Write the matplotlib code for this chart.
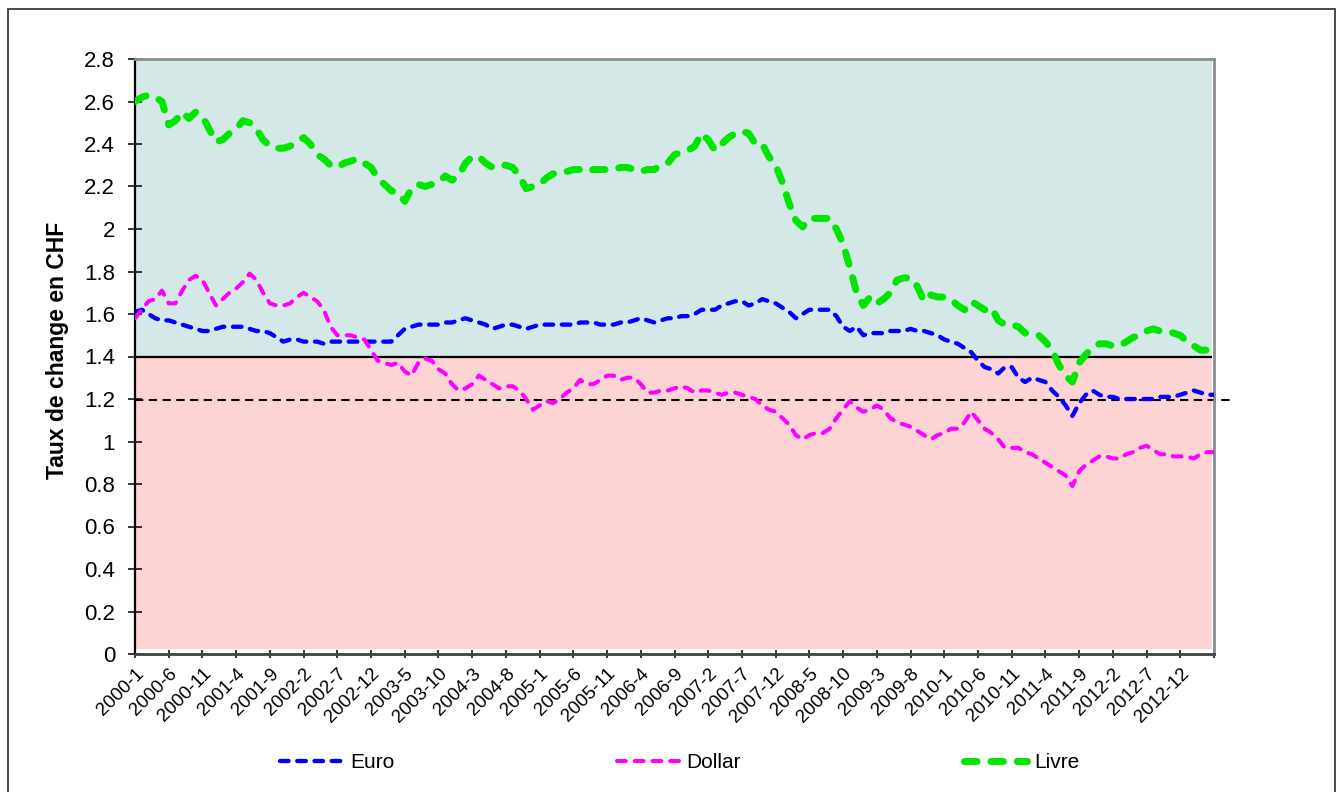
import matplotlib
matplotlib.use("Agg")
import matplotlib.pyplot as plt
from matplotlib.patches import Rectangle

plt.rcParams['font.family'] = ['Liberation Sans', 'DejaVu Sans']

# ---------------- data ----------------
months = [f"{y}-{m}" for y in range(2000, 2014) for m in range(1, 13)][:161]  # 2000-1 .. 2013-5

euro = [1.61, 1.62, 1.60, 1.58, 1.57, 1.57, 1.56, 1.55, 1.54, 1.53,
        1.52, 1.52, 1.53, 1.54, 1.54, 1.54, 1.54, 1.53, 1.52, 1.52,
        1.51, 1.49, 1.47, 1.48, 1.48, 1.47, 1.47, 1.47, 1.46, 1.47,
        1.47, 1.47, 1.47, 1.47, 1.47, 1.47, 1.47, 1.47, 1.47, 1.50,
        1.53, 1.54, 1.55, 1.55, 1.55, 1.55, 1.56, 1.56, 1.57, 1.58,
        1.57, 1.56, 1.55, 1.53, 1.54, 1.55, 1.55, 1.54, 1.53, 1.54,
        1.55, 1.55, 1.55, 1.55, 1.55, 1.55, 1.56, 1.56, 1.56, 1.55,
        1.55, 1.55, 1.56, 1.56, 1.57, 1.58, 1.57, 1.56, 1.57, 1.58,
        1.58, 1.59, 1.59, 1.60, 1.62, 1.62, 1.62, 1.64, 1.65, 1.66,
        1.66, 1.64, 1.65, 1.67, 1.66, 1.65, 1.63, 1.61, 1.58, 1.60,
        1.62, 1.62, 1.62, 1.62, 1.59, 1.54, 1.52, 1.54, 1.50, 1.51,
        1.51, 1.51, 1.52, 1.52, 1.52, 1.53, 1.52, 1.52, 1.51, 1.50,
        1.48, 1.47, 1.46, 1.44, 1.42, 1.38, 1.35, 1.34, 1.32, 1.35,
        1.35, 1.30, 1.28, 1.30, 1.29, 1.28, 1.24, 1.21, 1.17, 1.12,
        1.18, 1.22, 1.24, 1.22, 1.21, 1.21, 1.20, 1.20, 1.20, 1.20,
        1.20, 1.20, 1.21, 1.21, 1.21, 1.22, 1.23, 1.24, 1.23, 1.22,
        1.22]

dollar = [1.58, 1.62, 1.66, 1.67, 1.71, 1.65, 1.65, 1.71, 1.76, 1.78,
          1.76, 1.70, 1.64, 1.67, 1.70, 1.72, 1.75, 1.79, 1.76, 1.70,
          1.65, 1.64, 1.64, 1.65, 1.68, 1.70, 1.68, 1.66, 1.62, 1.54,
          1.50, 1.50, 1.50, 1.49, 1.48, 1.43, 1.38, 1.37, 1.36, 1.37,
          1.33, 1.31, 1.37, 1.39, 1.38, 1.34, 1.32, 1.27, 1.24, 1.25,
          1.27, 1.31, 1.29, 1.27, 1.25, 1.26, 1.26, 1.24, 1.20, 1.15,
          1.17, 1.19, 1.18, 1.20, 1.23, 1.25, 1.29, 1.27, 1.27, 1.29,
          1.31, 1.31, 1.29, 1.30, 1.30, 1.27, 1.23, 1.23, 1.24, 1.24,
          1.25, 1.26, 1.25, 1.23, 1.24, 1.24, 1.23, 1.22, 1.23, 1.23,
          1.22, 1.21, 1.20, 1.17, 1.15, 1.14, 1.11, 1.08, 1.03, 1.01,
          1.03, 1.04, 1.04, 1.06, 1.11, 1.15, 1.19, 1.16, 1.14, 1.15,
          1.17, 1.15, 1.11, 1.09, 1.08, 1.07, 1.05, 1.03, 1.01, 1.03,
          1.04, 1.06, 1.06, 1.09, 1.14, 1.10, 1.06, 1.04, 1.01, 0.97,
          0.97, 0.97, 0.95, 0.94, 0.92, 0.90, 0.88, 0.86, 0.84, 0.79,
          0.86, 0.89, 0.91, 0.93, 0.93, 0.92, 0.92, 0.94, 0.95, 0.97,
          0.98, 0.96, 0.94, 0.94, 0.93, 0.93, 0.93, 0.92, 0.94, 0.95,
          0.95]

livre = [2.60, 2.62, 2.63, 2.62, 2.60, 2.49, 2.51, 2.55, 2.52, 2.55,
         2.53, 2.47, 2.41, 2.42, 2.45, 2.47, 2.51, 2.50, 2.47, 2.42,
         2.39, 2.38, 2.38, 2.39, 2.41, 2.43, 2.40, 2.35, 2.33, 2.30,
         2.29, 2.31, 2.32, 2.33, 2.31, 2.29, 2.24, 2.21, 2.18, 2.17,
         2.13, 2.19, 2.21, 2.20, 2.21, 2.22, 2.25, 2.23, 2.25, 2.31,
         2.34, 2.34, 2.31, 2.29, 2.30, 2.30, 2.29, 2.25, 2.19, 2.20,
         2.21, 2.24, 2.26, 2.26, 2.27, 2.28, 2.28, 2.27, 2.28, 2.28,
         2.28, 2.28, 2.29, 2.29, 2.28, 2.27, 2.28, 2.28, 2.30, 2.31,
         2.35, 2.36, 2.37, 2.39, 2.45, 2.42, 2.37, 2.40, 2.43, 2.45,
         2.46, 2.45, 2.40, 2.40, 2.34, 2.30, 2.22, 2.12, 2.04, 2.01,
         2.05, 2.05, 2.05, 2.05, 2.00, 1.93, 1.82, 1.70, 1.64, 1.68,
         1.65, 1.67, 1.70, 1.76, 1.77, 1.77, 1.73, 1.66, 1.69, 1.68,
         1.68, 1.67, 1.64, 1.62, 1.66, 1.64, 1.62, 1.63, 1.57, 1.55,
         1.55, 1.54, 1.51, 1.51, 1.50, 1.47, 1.43, 1.36, 1.31, 1.28,
         1.37, 1.41, 1.44, 1.46, 1.46, 1.45, 1.45, 1.47, 1.49, 1.50,
         1.52, 1.53, 1.52, 1.52, 1.51, 1.50, 1.47, 1.45, 1.43, 1.43,
         1.44]

x_tick_labels = ["2000-1", "2000-6", "2000-11", "2001-4", "2001-9", "2002-2",
                 "2002-7", "2002-12", "2003-5", "2003-10", "2004-3", "2004-8",
                 "2005-1", "2005-6", "2005-11", "2006-4", "2006-9", "2007-2",
                 "2007-7", "2007-12", "2008-5", "2008-10", "2009-3", "2009-8",
                 "2010-1", "2010-6", "2010-11", "2011-4", "2011-9", "2012-2",
                 "2012-7", "2012-12"]
y_tick_values = [0, 0.2, 0.4, 0.6, 0.8, 1, 1.2, 1.4, 1.6, 1.8, 2, 2.2, 2.4, 2.6, 2.8]
y_tick_labels = ["0", "0.2", "0.4", "0.6", "0.8", "1", "1.2", "1.4", "1.6",
                 "1.8", "2", "2.2", "2.4", "2.6", "2.8"]
threshold_solid = 1.4
threshold_dashed = 1.195
series_names = ["Euro", "Dollar", "Livre"]

# ---------------- figure ----------------
W, H = 1344, 792
fig = plt.figure(figsize=(W / 100, H / 100), dpi=100)
fig.patch.set_facecolor('white')

# outer frame
fig.add_artist(Rectangle((8 / W, -0.01), (1335 - 8) / W, 1 - 9 / H + 0.01,
                         transform=fig.transFigure, fill=False,
                         edgecolor='#3a3a3a', linewidth=1.3))

ax = fig.add_axes([135 / W, 1 - 654 / H, (1214 - 135) / W, (654 - 59) / H])

idx = list(range(len(months)))
ax.set_xlim(0, len(months) - 1)
ax.set_ylim(0, 2.8)

# background bands
ax.axhspan(0.022, threshold_solid, xmin=0, xmax=0.998, facecolor='#FDD3D4',
           edgecolor='none', zorder=0)
ax.axhspan(threshold_solid, 2.8, xmin=0, xmax=0.998, facecolor='#D4E8E8',
           edgecolor='none', zorder=0)

# reference lines
ax.plot([0, len(months) - 1.3], [threshold_solid, threshold_solid],
        color='black', lw=1.6, zorder=2, solid_capstyle='butt')
ax.plot([0, len(months) + 1.6], [threshold_dashed, threshold_dashed],
        color='black', lw=1.5, linestyle=(0, (4, 2.6)), zorder=2,
        clip_on=False, dash_capstyle='butt')

# series
l1, = ax.plot(idx, euro, color='#0000FF', lw=3.1, linestyle=(0, (2.0, 2.0)),
              dash_capstyle='round', zorder=3, label=series_names[0])
l2, = ax.plot(idx, dollar, color='#FF00FF', lw=2.9, linestyle=(0, (2.2, 2.2)),
              dash_capstyle='round', zorder=3, label=series_names[1])
l3, = ax.plot(idx, livre, color='#00E600', lw=5.0, linestyle=(0, (1.8, 2.0)),
              dash_capstyle='round', zorder=4, label=series_names[2])

# axes styling
for side in ['top', 'right']:
    ax.spines[side].set_color('#8c8c8c')
    ax.spines[side].set_linewidth(2.0)
ax.spines['left'].set_color('black')
ax.spines['left'].set_linewidth(1.6)
ax.spines['bottom'].set_color('#404040')
ax.spines['bottom'].set_linewidth(2.0)

ax.set_yticks(y_tick_values)
ax.set_yticklabels(y_tick_labels)
ax.tick_params(axis='y', direction='inout', length=10.5, width=1.1,
               labelsize=16, pad=9, colors='black')

ax.set_xticks(list(range(0, 160, 5)))
ax.set_xticklabels(x_tick_labels, rotation=45, ha='right', va='top',
                   rotation_mode='anchor')
ax.set_xticks([len(months) - 1], minor=True)
ax.tick_params(axis='x', which='both', direction='inout', length=6, width=1.1,
               labelsize=13.5, pad=5, colors='black')
ax.tick_params(axis='x', which='minor', length=6)

ax.set_ylabel("Taux de change en CHF", fontsize=16.5, fontweight='bold')
ax.yaxis.set_label_coords(-0.061, 0.51)

# legend
fig.legend(handles=[l1, l2, l3], labels=series_names, loc='center left',
           bbox_to_anchor=(280 / W, 1 - 763 / H), ncol=3, frameon=False,
           fontsize=15, handlelength=3.0, handletextpad=0.35,
           columnspacing=10.7, borderpad=0, borderaxespad=0)

fig.savefig("out.png", dpi=100)
